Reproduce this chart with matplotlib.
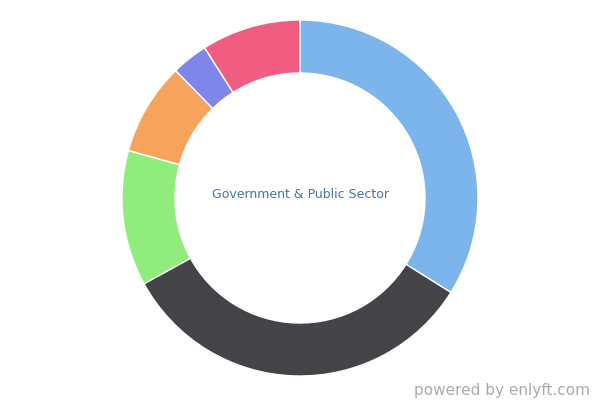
import matplotlib.pyplot as plt

# share of each segment (percent), read clockwise from 12 o'clock
segments = ['Segment 1', 'Segment 2', 'Segment 3', 'Segment 4', 'Segment 5', 'Segment 6']
shares = [33.9, 33.1, 12.3, 8.4, 3.3, 9.0]
colors = ['#7cb5ec', '#434348', '#90ed7d', '#f7a35c', '#8085e9', '#f15c80']
center_label = 'Government & Public Sector'

fig = plt.figure(figsize=(6, 4), dpi=100)
ax = fig.add_axes([0, 0, 1, 1])
ax.set_xlim(0, 600)
ax.set_ylim(0, 400)
ax.set_aspect('equal')
ax.axis('off')

ax.pie(shares, colors=colors, startangle=90, counterclock=False,
       center=(300, 202), radius=178, frame=True,
       wedgeprops=dict(width=53, edgecolor='white', linewidth=1))
ax.set_xlim(0, 600)
ax.set_ylim(0, 400)
ax.axis('off')

ax.text(300, 206, center_label, ha='center', va='center',
        fontsize=9, color='#4572a7', family='DejaVu Sans')
ax.text(590, 10, 'powered by enlyft.com', ha='right', va='center',
        fontsize=11, color='#aaaaaa', family='DejaVu Sans')

fig.savefig('out.png', dpi=100)
